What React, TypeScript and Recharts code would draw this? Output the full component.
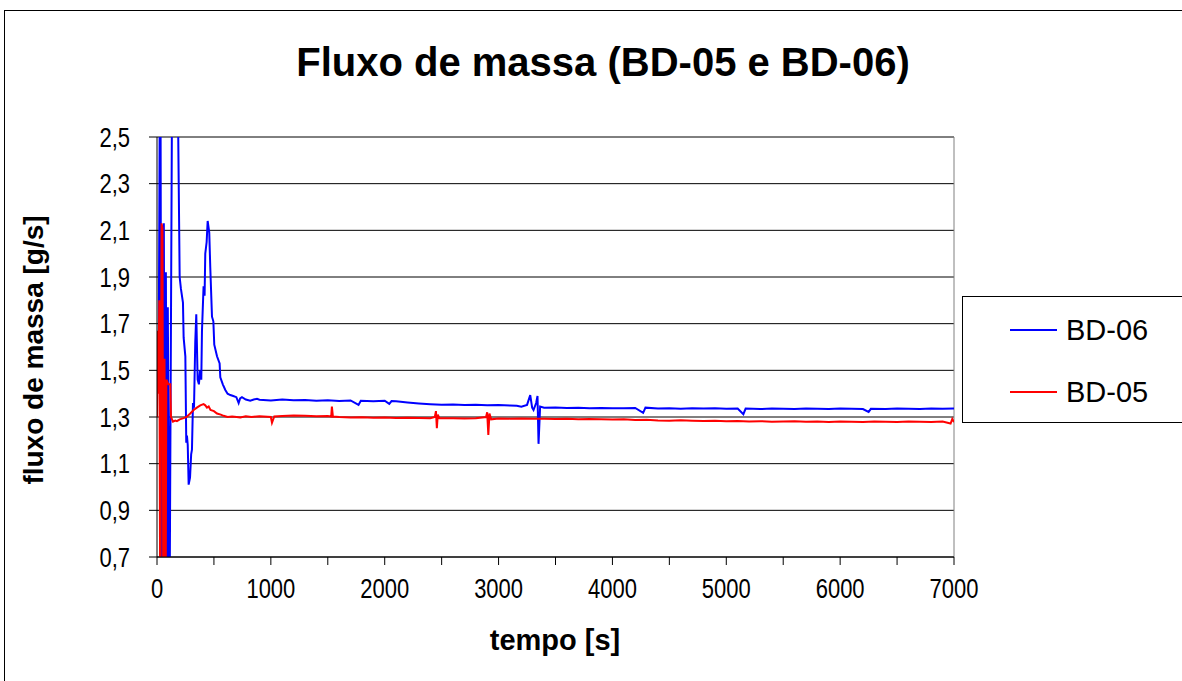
import React from 'react';
import { LineChart, Line, XAxis, YAxis, CartesianGrid, ReferenceLine } from 'recharts';

const FONT = '"Liberation Sans", Arial, sans-serif';

// BD-06 (blue): time [s] and flow [g/s]
const bd06Time = [
  0, 15, 29, 40, 60, 70, 78, 88, 95, 110, 140, 170, 199, 210, 228, 234, 249, 257, 263, 270, 278, 290, 300, 307,
  316, 325, 336, 345, 357, 368, 378, 389, 395, 409, 418, 424, 436, 445, 459, 468, 483, 495, 503, 527, 550, 556,
  578, 600, 620, 644, 670, 697, 717, 730, 746, 780, 819, 850, 878,
  900, 1000, 1100, 1200, 1300, 1400, 1500, 1600, 1700, 1770, 1790, 1900, 2000, 2040, 2060, 2100, 2200, 2300,
  2400, 2500, 2600, 2700, 2800, 2900, 3000, 3100, 3160, 3200, 3250, 3278, 3295, 3307, 3330, 3342, 3351, 3365,
  3400, 3500, 3600, 3700, 3800, 3900, 4000, 4100, 4200, 4270, 4290, 4400, 4500, 4600, 4700, 4800, 4900, 5000,
  5100, 5150, 5170, 5300, 5400, 5500, 5600, 5700, 5800, 5900, 6000, 6100, 6200, 6250, 6270, 6400, 6500, 6600,
  6700, 6800, 6900, 7000,
];
const bd06Flow = [
  1.42, 1.56, 3.2, 0.4, 2.13, 0.4, 1.92, 0.4, 1.77, 0.4, 3.5, 3.3, 1.9, 1.85, 1.79, 1.64, 1.56, 1.19, 1.22, 1.18,
  1.01, 1.04, 1.14, 1.16, 1.36, 1.34, 1.62, 1.74, 1.46, 1.44, 1.5, 1.46, 1.67, 1.86, 1.82, 2.0, 2.05, 2.14, 2.09,
  1.94, 1.73, 1.71, 1.61, 1.56, 1.53, 1.47, 1.44, 1.416, 1.4, 1.394, 1.39, 1.385, 1.36, 1.38, 1.385, 1.375, 1.37,
  1.375, 1.378,
  1.374, 1.371, 1.375, 1.372, 1.373, 1.37, 1.372, 1.369, 1.371, 1.352, 1.37, 1.368, 1.37, 1.356, 1.368, 1.367,
  1.362, 1.358, 1.355, 1.352, 1.354, 1.351, 1.352, 1.35, 1.351, 1.349, 1.348, 1.344, 1.352, 1.394, 1.34, 1.33,
  1.36, 1.39, 1.185, 1.345, 1.34, 1.341, 1.339, 1.34, 1.338, 1.339, 1.338, 1.337, 1.339, 1.318, 1.34, 1.336,
  1.338, 1.335, 1.337, 1.336, 1.337, 1.335, 1.336, 1.312, 1.336, 1.334, 1.336, 1.335, 1.334, 1.336, 1.335, 1.334,
  1.336, 1.335, 1.334, 1.322, 1.335, 1.334, 1.336, 1.335, 1.334, 1.336, 1.335, 1.336,
];

// BD-05 (red)
const bd05Time = [
  0, 6, 12, 20, 29, 40, 48, 56, 66, 75, 82, 100, 117, 123, 140, 160, 175, 200, 234, 260, 292, 322, 350, 380, 409,
  424, 439, 454, 470, 500, 527, 560, 585, 620, 660, 700, 731, 780, 830,
  900, 1000, 1010, 1030, 1100, 1200, 1300, 1400, 1500, 1530, 1536, 1545, 1600, 1700, 1800, 1900, 2000, 2100, 2200,
  2300, 2400, 2440, 2450, 2458, 2466, 2480, 2600, 2700, 2800, 2890, 2900, 2910, 2920, 2935, 3000, 3100, 3200,
  3300, 3400, 3500, 3600, 3700, 3800, 3900, 4000, 4100, 4200, 4300, 4400, 4500, 4600, 4700, 4800, 4900, 5000,
  5100, 5200, 5300, 5400, 5500, 5600, 5700, 5800, 5900, 6000, 6100, 6200, 6300, 6400, 6500, 6600, 6700, 6800,
  6900, 6970, 6985, 7000,
];
const bd05Flow = [
  1.3, 1.67, 1.4, 1.8, 0.3, 2.13, 2.11, 0.3, 1.55, 0.3, 1.46, 1.44, 1.44, 1.3, 1.28, 1.285, 1.282, 1.29, 1.295,
  1.3, 1.315, 1.33, 1.34, 1.35, 1.355, 1.35, 1.34, 1.345, 1.33, 1.325, 1.315, 1.31, 1.305, 1.3, 1.302, 1.3,
  1.298, 1.303, 1.3,
  1.303, 1.3, 1.275, 1.302, 1.304, 1.306, 1.305, 1.303, 1.304, 1.302, 1.345, 1.302, 1.3, 1.298, 1.299, 1.297,
  1.298, 1.296, 1.297, 1.296, 1.295, 1.3, 1.325, 1.252, 1.31, 1.295, 1.295, 1.294, 1.295, 1.3, 1.32, 1.223,
  1.315, 1.29, 1.294, 1.293, 1.294, 1.293, 1.292, 1.291, 1.292, 1.29, 1.291, 1.29, 1.289, 1.29, 1.287, 1.288,
  1.285, 1.284, 1.286, 1.284, 1.283, 1.284, 1.282, 1.283, 1.281, 1.282, 1.28, 1.281, 1.282, 1.28, 1.281, 1.279,
  1.281, 1.28, 1.279, 1.281, 1.28, 1.279, 1.281, 1.28, 1.279, 1.281, 1.272, 1.292, 1.278,
];

const xTicks = [0, 500, 1000, 1500, 2000, 2500, 3000, 3500, 4000, 4500, 5000, 5500, 6000, 6500, 7000];
const yTicks = [0.7, 0.9, 1.1, 1.3, 1.5, 1.7, 1.9, 2.1, 2.3, 2.5];

const bd06Data = bd06Time.map((t, i) => ({ t, v: bd06Flow[i] }));
const bd05Data = bd05Time.map((t, i) => ({ t, v: bd05Flow[i] }));

const series = [
  { name: 'BD-06', color: '#0000ff' },
  { name: 'BD-05', color: '#ff0000' },
];

// tick text in the original is a little taller than it is wide
const XTick = (props: any) => {
  const { x, y, payload } = props;
  if (payload.value % 1000 !== 0) return null;
  return (
    <text transform={`translate(${x}, ${y + 12}) scale(1, 1.22)`} textAnchor="middle" dy="0.71em" fontSize={22} fontFamily={FONT} fill="#000">
      {payload.value}
    </text>
  );
};

const YTick = (props: any) => {
  const { x, y, payload } = props;
  return (
    <text transform={`translate(${x - 17}, ${y}) scale(1, 1.22)`} textAnchor="end" dy="0.36em" fontSize={22} fontFamily={FONT} fill="#000">
      {payload.value.toFixed(1).replace('.', ',')}
    </text>
  );
};

export default function App() {
  return (
    <div style={{ position: 'absolute', left: 0, top: 0, width: 1182, height: 681, background: '#fff', overflow: 'hidden' }}>
      <div style={{ position: 'absolute', left: 4, top: 10, width: 1220, height: 720, border: '1px solid #000' }} />
      <LineChart
        width={1182}
        height={681}
        margin={{ top: 137, right: 228, bottom: 94, left: 97 }}
        style={{ position: 'absolute', left: 0, top: 0 }}
      >
        <CartesianGrid horizontal vertical={false} stroke="#000" />
        <XAxis
          type="number"
          dataKey="t"
          domain={[0, 7000]}
          ticks={xTicks}
          allowDataOverflow
          height={30}
          stroke="#000"
          tickSize={8}
          tick={<XTick />}
        />
        <YAxis
          type="number"
          dataKey="v"
          domain={[0.7, 2.5]}
          ticks={yTicks}
          allowDataOverflow
          width={60}
          stroke="#000"
          tickSize={8}
          tick={<YTick />}
        />
        <ReferenceLine y={2.5} stroke="#808080" />
        <ReferenceLine x={7000} stroke="#808080" />
        <Line data={bd06Data} dataKey="v" name="BD-06" stroke="#0000ff" strokeWidth={2} dot={false} isAnimationActive={false} />
        <Line data={bd05Data} dataKey="v" name="BD-05" stroke="#ff0000" strokeWidth={2} dot={false} isAnimationActive={false} />
      </LineChart>
      <div
        style={{
          position: 'absolute',
          left: 962,
          top: 296,
          width: 240,
          height: 127,
          border: '1px solid #000',
          background: '#fff',
          boxSizing: 'border-box',
          fontFamily: FONT,
        }}
      >
        {series.map((s, i) => (
          <div key={s.name} style={{ position: 'absolute', left: 47, top: 16 + i * 62, display: 'flex', alignItems: 'center' }}>
            <svg width={48} height={4} style={{ marginRight: 8 }}>
              <line x1={0} y1={2} x2={47} y2={2} stroke={s.color} strokeWidth={2} />
            </svg>
            <span style={{ fontSize: 29, lineHeight: '34px', color: '#000' }}>{s.name}</span>
          </div>
        ))}
      </div>
      <svg width={1182} height={681} style={{ position: 'absolute', left: 0, top: 0, pointerEvents: 'none' }}>
        <text x={603} y={76} textAnchor="middle" fontFamily={FONT} fontWeight="bold" fontSize={40} fill="#000">
          Fluxo de massa (BD-05 e BD-06)
        </text>
        <text x={555} y={650} textAnchor="middle" fontFamily={FONT} fontWeight="bold" fontSize={29} fill="#000">
          tempo [s]
        </text>
        <text
          x={0}
          y={0}
          transform="translate(43, 350) rotate(-90)"
          textAnchor="middle"
          fontFamily={FONT}
          fontWeight="bold"
          fontSize={28}
          fill="#000"
        >
          fluxo de massa [g/s]
        </text>
      </svg>
    </div>
  );
}
